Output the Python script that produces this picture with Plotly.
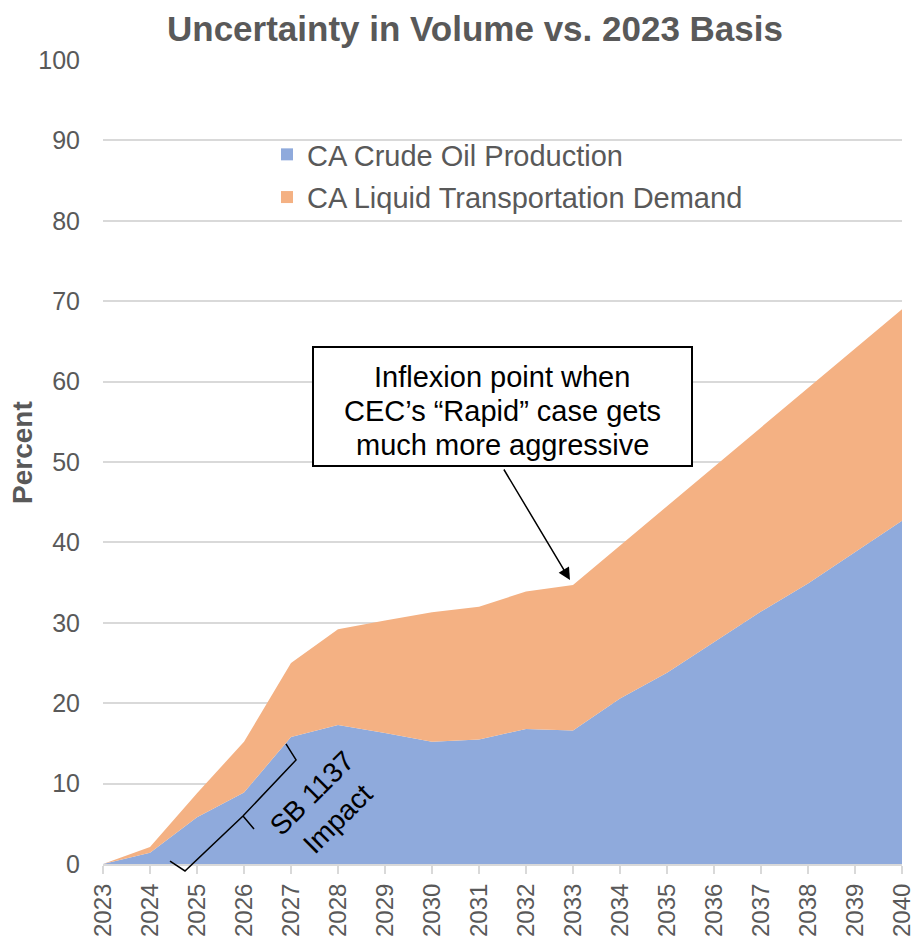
import plotly.graph_objects as go

years = list(range(2023, 2041))
crude_oil = [0, 1.4, 5.8, 8.9, 15.8, 17.3, 16.3, 15.2, 15.5, 16.8, 16.6, 20.6, 23.8, 27.6, 31.4, 34.9, 38.8, 42.7]
liquid_demand = [0, 0.7, 3.0, 6.3, 9.2, 11.9, 14.0, 16.1, 16.5, 17.1, 18.1, 19.0, 20.7, 21.8, 22.9, 24.3, 25.3, 26.3]
series_names = ['CA Crude Oil Production', 'CA Liquid Transportation Demand']
series_colors = ['#8FAADC', '#F4B183']
callout_lines = ['Inflexion point when', 'CEC\u2019s \u201cRapid\u201d case gets', 'much more aggressive']

W, H = 915, 937
L, R, T, B = 103, 13, 60, 73
FONT = 'Arial, Liberation Sans, sans-serif'
GREY = '#595959'


def px_x(p):
    return (p - L) / (W - L - R)


def px_y(p):
    return (H - B - p) / (H - T - B)


fig = go.Figure()
for vals, name, col in zip([crude_oil, liquid_demand], series_names, series_colors):
    fig.add_trace(go.Scatter(x=years, y=vals, stackgroup='one', mode='lines',
                             line=dict(width=0, color=col), fillcolor=col,
                             showlegend=False, hoverinfo='skip'))
# legend entries with small square swatches
for i, (name, col) in enumerate(zip(series_names, series_colors)):
    fig.add_trace(go.Scatter(x=[None], y=[None], mode='markers', name=name,
                             legendgroup=str(i),
                             marker=dict(symbol='square', size=12, color=col)))

# SB 1137 bracket
bracket = [(170, 861), (185, 871), (243, 816), (296, 760), (286, 744)]
path = 'M ' + ' L '.join('{:.4f},{:.4f}'.format(px_x(a), px_y(b)) for a, b in bracket)
path += ' M {:.4f},{:.4f} L {:.4f},{:.4f}'.format(px_x(243), px_y(816), px_x(254), px_y(829))
fig.add_shape(type='path', path=path, xref='paper', yref='paper',
              line=dict(color='black', width=1.5))

fig.add_annotation(text='SB 1137<br>Impact', x=px_x(324), y=px_y(806), xref='paper', yref='paper',
                   xanchor='center', yanchor='middle',
                   showarrow=False, textangle=-45, font=dict(family=FONT, size=28, color='black'))

# callout box + arrow
fig.add_shape(type='rect', xref='paper', yref='paper',
              x0=px_x(313), x1=px_x(692), y0=px_y(466), y1=px_y(347),
              line=dict(color='black', width=2), fillcolor='white', layer='above')
for k, line in enumerate(callout_lines):
    fig.add_annotation(text=line, x=px_x(502), y=px_y(377 + 34 * k), xref='paper', yref='paper',
                       xanchor='center', yanchor='middle',
                       showarrow=False, font=dict(family=FONT, size=29, color='black'))
fig.add_annotation(text='', x=px_x(570), y=px_y(580), xref='paper', yref='paper',
                   ax=-67, ay=-112, axref='pixel', ayref='pixel',
                   showarrow=True, arrowhead=2, arrowsize=1.6, arrowwidth=1.5, arrowcolor='black')

fig.add_annotation(text='<b>Percent</b>', x=px_x(22), y=px_y(453), xref='paper', yref='paper',
                   xanchor='center', yanchor='middle',
                   showarrow=False, textangle=-90, font=dict(family=FONT, size=28, color=GREY))

fig.update_layout(
    width=W, height=H,
    margin=dict(l=L, r=R, t=T, b=B, autoexpand=False),
    plot_bgcolor='white', paper_bgcolor='white',
    font=dict(family=FONT, color=GREY, size=25),
    title=dict(text='<b>Uncertainty in Volume vs. 2023 Basis</b>', x=475 / W, xanchor='center',
               y=1 - 29 / H, yanchor='middle', yref='container',
               font=dict(family=FONT, size=35, color=GREY)),
    showlegend=True,
    legend=dict(x=px_x(267), y=px_y(129), xanchor='left', yanchor='top',
                bgcolor='rgba(0,0,0,0)', font=dict(family=FONT, size=29, color=GREY),
                traceorder='grouped', tracegroupgap=2, itemsizing='trace'),
    xaxis=dict(range=[2023, 2040], tickmode='array', tickvals=years,
               ticktext=[str(y) for y in years], tickangle=-90, automargin=False,
               ticklabeloverflow='allow',
               showgrid=False, showline=True, linecolor='#D9D9D9', linewidth=2,
               ticks='outside', ticklen=8, tickwidth=2, tickcolor='#D9D9D9',
               tickfont=dict(size=24, color=GREY), zeroline=False, fixedrange=True),
    yaxis=dict(range=[0, 100], dtick=10, showgrid=True, gridcolor='#D9D9D9', gridwidth=2,
               zeroline=False, showline=False, ticks='', ticklabelstandoff=22, automargin=False,
               tickfont=dict(size=25, color=GREY), fixedrange=True),
)

# the page's default body margin would push the figure 8px off the corner
fig.write_html('out.html', config={'displayModeBar': False},
               post_script="document.body.style.margin='0';")
